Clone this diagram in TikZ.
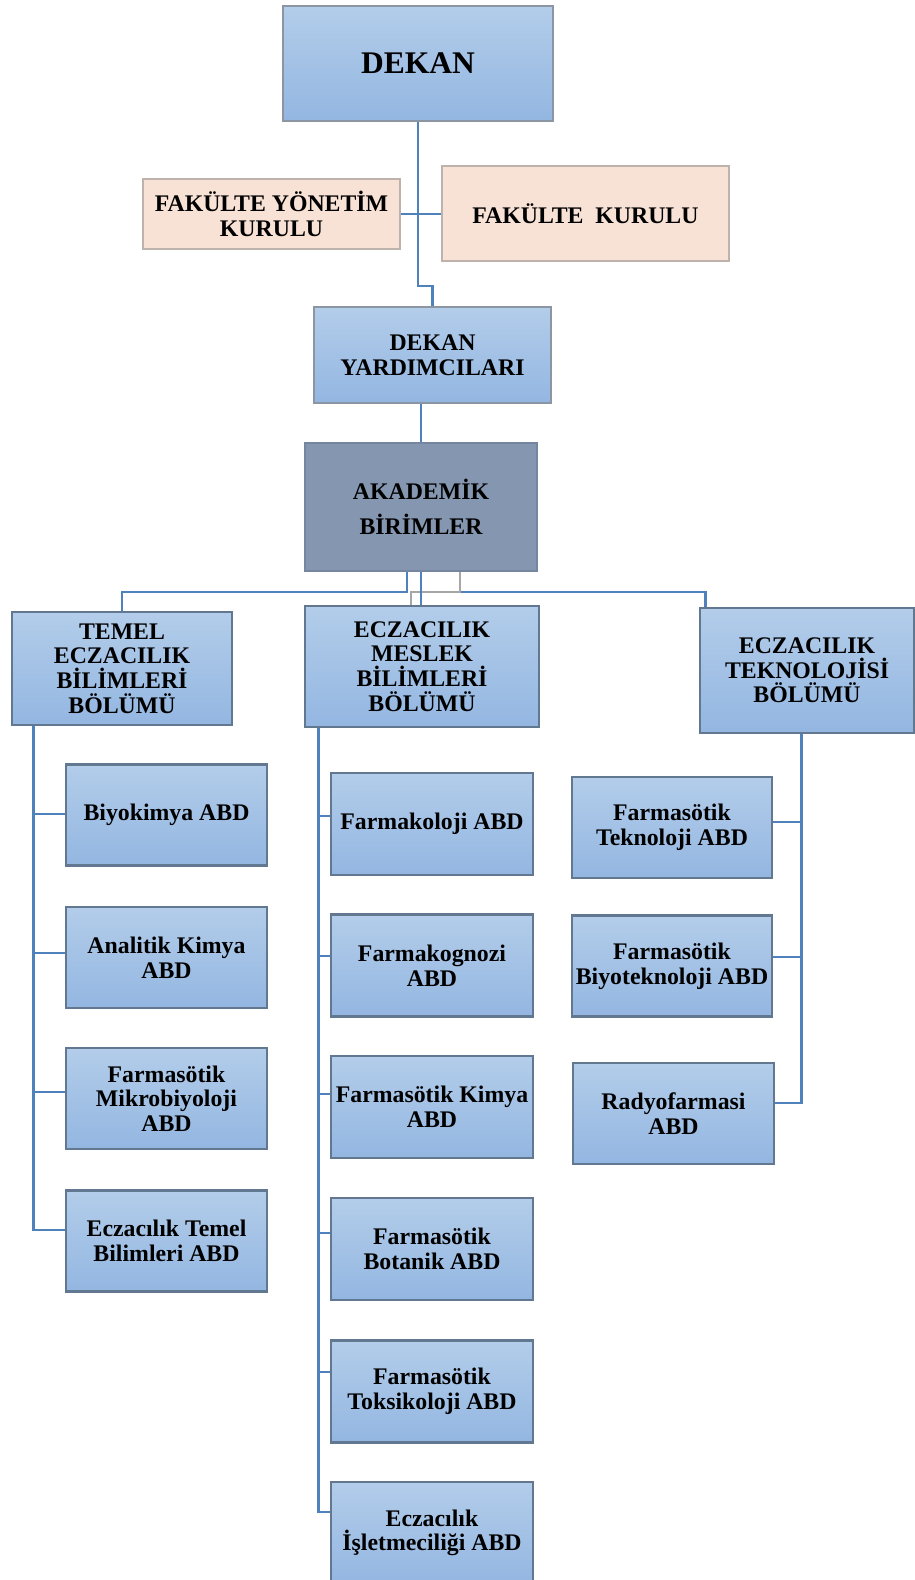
\documentclass[tikz,border=0pt]{standalone}
\usepackage{fontspec}
\setmainfont{Liberation Serif}
\definecolor{boxtop}{HTML}{B3CDEA}
\definecolor{boxbot}{HTML}{93B6E1}
\definecolor{bordlight}{HTML}{8C96A3}
\definecolor{borddark}{HTML}{627891}
\definecolor{peachfill}{HTML}{F8E2D5}
\definecolor{peachbord}{HTML}{BDB3AC}
\definecolor{akadfill}{HTML}{8597B0}
\definecolor{akadbord}{HTML}{7686A0}
\definecolor{connblue}{HTML}{4F81BD}
\definecolor{graylink}{HTML}{A6A6A6}
\tikzset{
  base/.style={draw, align=center, inner sep=0pt, text=black,
    font=\bfseries\fontsize{23.8}{24.6}\selectfont},
  bluebox/.style={base, top color=boxtop, bottom color=boxbot, draw=bordlight, line width=1.4},
  deptbox/.style={bluebox, draw=borddark, line width=2.8},
  peachbox/.style={base, fill=peachfill, draw=peachbord, line width=1.5},
  akadbox/.style={base, fill=akadfill, draw=akadbord, line width=1.5,
    font=\bfseries\fontsize{23.8}{35}\selectfont},
  conn/.style={draw=connblue, line width=2.4},
  grayconn/.style={draw=graylink, line width=2},
  lcol/.style={deptbox, minimum width=201, minimum height=101},
  mcol/.style={deptbox, minimum width=202, minimum height=102},
  rcol/.style={deptbox, minimum width=200, minimum height=101}
}
\begin{document}
\begin{tikzpicture}[x=1pt,y=1pt]
\useasboundingbox[fill=white] (0,0) rectangle (915,-1580);

% top
\node[bluebox, minimum width=270, minimum height=115,
  font=\bfseries\fontsize{31.5}{33}\selectfont] (dekan) at (418,-63.5) {DEKAN};
\node[peachbox, minimum width=257, minimum height=70] (fyk) at (271.5,-214) {FAKÜLTE YÖNETİM\\KURULU};
\node[peachbox, minimum width=287, minimum height=95] (fk) at (585.5,-213.5) {FAKÜLTE~~KURULU};
\node[bluebox, minimum width=237, minimum height=96] (dyard) at (432.5,-355) {DEKAN\\YARDIMCILARI};
\node[akadbox, minimum width=232, minimum height=128] (akad) at (421,-507) {AKADEMİK\\BİRİMLER};

% departments
\node[deptbox, minimum width=220, minimum height=113] (temel) at (122,-668.5) {TEMEL\\ECZACILIK\\BİLİMLERİ\\BÖLÜMÜ};
\node[deptbox, minimum width=234, minimum height=121] (meslek) at (422,-666.5) {ECZACILIK\\MESLEK\\BİLİMLERİ\\BÖLÜMÜ};
\node[deptbox, minimum width=214, minimum height=125] (tek) at (807,-670.5) {ECZACILIK\\TEKNOLOJİSİ\\BÖLÜMÜ};

% left column
\node[lcol] (biyo) at (166.5,-815) {Biyokimya ABD};
\node[lcol] (anal) at (166.5,-957.5) {Analitik Kimya\\ABD};
\node[lcol] (mikro) at (166.5,-1098.5) {Farmasötik\\Mikrobiyoloji\\ABD};
\node[lcol] (etb) at (166.5,-1241) {Eczacılık Temel\\Bilimleri ABD};

% middle column
\node[mcol] (fkol) at (432,-824) {Farmakoloji ABD};
\node[mcol] (fkog) at (432,-965.5) {Farmakognozi\\ABD};
\node[mcol] (fkim) at (432,-1107) {Farmasötik Kimya\\ABD};
\node[mcol] (fbot) at (432,-1249) {Farmasötik\\Botanik ABD};
\node[mcol] (ftok) at (432,-1391.5) {Farmasötik\\Toksikoloji ABD};
\node[mcol] (eis) at (432,-1533) {Eczacılık\\İşletmeciliği ABD};

% right column
\node[rcol] (ftek) at (672,-827.5) {Farmasötik\\Teknoloji ABD};
\node[rcol] (fbiy) at (672,-966) {Farmasötik\\Biyoteknoloji ABD};
\node[rcol, minimum width=201] (rad) at (673.5,-1113.5) {Radyofarmasi\\ABD};

% connectors top
\draw[conn] (dekan.south) -- (dekan.south |- 0,-286) -| (dyard.north);
\draw[conn] (fyk.east) -- (fyk.east -| fk.west);
\draw[conn] (akad.north) -- (akad.north |- dyard.south);

% bus
\coordinate (bus) at (0,-592);
\draw[conn] ([xshift=-14]akad.south) -- ([xshift=-14]akad.south |- bus) -| (temel.north);
\draw[conn] (akad.south |- bus) -| ([xshift=7]tek.north west);
\draw[grayconn] ([xshift=39]akad.south) |- ([xshift=-11]meslek.north |- bus) -- ([xshift=-11]meslek.north);
\draw[conn] (akad.south) -- (akad.south |- meslek.north);

% left trunk
\coordinate (tl) at ([xshift=23]temel.south west);
\draw[conn] (tl) |- ([yshift=11]etb.west);
\draw[conn] ([yshift=1.3]biyo.west) -- ([yshift=1.3]biyo.west -| tl);
\draw[conn] ([yshift=4.8]anal.west) -- ([yshift=4.8]anal.west -| tl);
\draw[conn] ([yshift=6.8]mikro.west) -- ([yshift=6.8]mikro.west -| tl);

% middle trunk
\coordinate (tm) at ([xshift=15]meslek.south west);
\draw[conn] (tm) |- ([yshift=21.3]eis.west);
\draw[conn] ([yshift=8]fkol.west) -- ([yshift=8]fkol.west -| tm);
\draw[conn] ([yshift=9.8]fkog.west) -- ([yshift=9.8]fkog.west -| tm);
\draw[conn] ([yshift=13]fkim.west) -- ([yshift=13]fkim.west -| tm);
\draw[conn] ([yshift=16]fbot.west) -- ([yshift=16]fbot.west -| tm);
\draw[conn] ([yshift=19.5]ftok.west) -- ([yshift=19.5]ftok.west -| tm);

% right trunk
\coordinate (tr) at ([xshift=103]tek.south west);
\draw[conn] (tr) |- ([yshift=10.8]rad.east);
\draw[conn] ([yshift=5.5]ftek.east) -- ([yshift=5.5]ftek.east -| tr);
\draw[conn] ([yshift=9]fbiy.east) -- ([yshift=9]fbiy.east -| tr);
\end{tikzpicture}
\end{document}
